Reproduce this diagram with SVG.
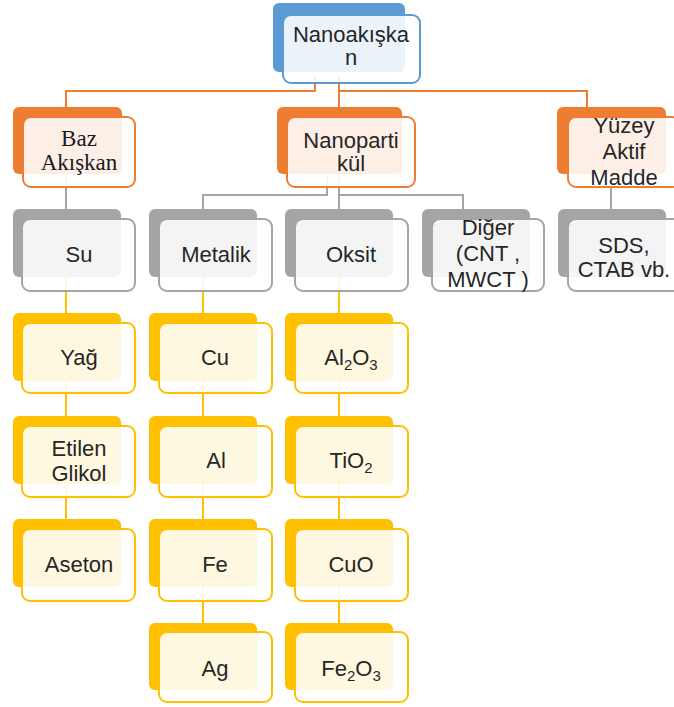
<svg xmlns="http://www.w3.org/2000/svg" width="674" height="707" viewBox="0 0 674 707">
<style>
.bg{fill:#ffffff}
.c{fill:none;stroke-width:2}
.co{stroke:#ed7d31}.cg{stroke:#a5a5a5}.cy{stroke:#ffc000}
.fr{fill:#ffffff;fill-opacity:0.88;stroke-width:2}
.b-blue{fill:#5b9bd5}.f-blue{stroke:#5b9bd5}
.b-or{fill:#ed7d31}.f-or{stroke:#ed7d31}
.b-gr{fill:#a5a5a5}.f-gr{stroke:#a5a5a5}
.b-ye{fill:#ffc000}.f-ye{stroke:#ffc000}
text{font-family:"Liberation Sans",Arial,sans-serif;font-size:22px;fill:#262626;text-anchor:middle}
text.serif{font-family:"Liberation Serif","Times New Roman",serif;font-size:23px;fill:#1a1a1a}
.sub{font-size:15px}
</style>
<rect class="bg" width="674" height="707"/>
<g id="connectors">
<path class="c co" d="M315,75 V91 H66 V107"/>
<path class="c co" d="M339,75 V107"/>
<path class="c co" d="M339,91 H587 V107"/>
<path class="c cg" d="M66,177 V209"/>
<path class="c cg" d="M327,177 V195 H203 V209"/>
<path class="c cg" d="M339,177 V209"/>
<path class="c cg" d="M339,195 H463 V209"/>
<path class="c cg" d="M611,177 V209"/>
<path class="c cy" d="M66,277 V313"/>
<path class="c cy" d="M66,381 V416"/>
<path class="c cy" d="M66,484 V519"/>
<path class="c cy" d="M203,277 V313"/>
<path class="c cy" d="M203,381 V416"/>
<path class="c cy" d="M203,484 V519"/>
<path class="c cy" d="M203,587 V623"/>
<path class="c cy" d="M339,277 V313"/>
<path class="c cy" d="M339,381 V416"/>
<path class="c cy" d="M339,484 V519"/>
<path class="c cy" d="M339,587 V623"/>
</g>
<g id="nanoakiskan">
<rect class="b-blue" x="273" y="3" width="132" height="69" rx="6"/>
<rect class="fr f-blue" x="283" y="15" width="137" height="68" rx="8"/>
<text x="351" y="42">Nanoakışka</text>
<text x="351" y="65">n</text>
</g>
<g id="baz-akiskan">
<rect class="b-or" x="13" y="107" width="109" height="67" rx="6"/>
<rect class="fr f-or" x="23" y="117" width="112" height="70" rx="8"/>
<text class="serif" x="79" y="146">Baz</text>
<text class="serif" x="79" y="170">Akışkan</text>
</g>
<g id="nanopartikul">
<rect class="b-or" x="277" y="107" width="125" height="67" rx="6"/>
<rect class="fr f-or" x="287" y="117" width="128" height="70" rx="8"/>
<text x="351" y="148">Nanoparti</text>
<text x="351" y="171">kül</text>
</g>
<g id="yuzey-aktif-madde">
<rect class="b-or" x="557" y="107" width="109" height="67" rx="6"/>
<rect class="fr f-or" x="568" y="117" width="112" height="70" rx="8"/>
<text x="624" y="133">Yüzey</text>
<text x="624" y="159">Aktif</text>
<text x="624" y="185">Madde</text>
</g>
<g id="su">
<rect class="b-gr" x="13" y="209" width="108" height="68" rx="6"/>
<rect class="fr f-gr" x="22" y="219" width="113" height="72" rx="8"/>
<text x="79" y="262">Su</text>
</g>
<g id="metalik">
<rect class="b-gr" x="149" y="209" width="108" height="68" rx="6"/>
<rect class="fr f-gr" x="159" y="219" width="113" height="72" rx="8"/>
<text x="216" y="262">Metalik</text>
</g>
<g id="oksit">
<rect class="b-gr" x="285" y="209" width="108" height="68" rx="6"/>
<rect class="fr f-gr" x="295" y="219" width="113" height="72" rx="8"/>
<text x="351" y="262">Oksit</text>
</g>
<g id="diger">
<rect class="b-gr" x="422" y="209" width="108" height="68" rx="6"/>
<rect class="fr f-gr" x="432" y="219" width="112" height="72" rx="8"/>
<text x="488" y="235">Diğer</text>
<text x="488" y="261">(CNT ,</text>
<text x="488" y="287">MWCT )</text>
</g>
<g id="sds-ctab">
<rect class="b-gr" x="558" y="209" width="108" height="68" rx="6"/>
<rect class="fr f-gr" x="568" y="219" width="113" height="72" rx="8"/>
<text x="624" y="253">SDS,</text>
<text x="624" y="277">CTAB vb.</text>
</g>
<g id="yag">
<rect class="b-ye" x="13" y="313" width="108" height="68" rx="6"/>
<rect class="fr f-ye" x="22" y="323" width="113" height="70" rx="8"/>
<text x="79" y="365">Yağ</text>
</g>
<g id="cu">
<rect class="b-ye" x="149" y="313" width="108" height="68" rx="6"/>
<rect class="fr f-ye" x="159" y="323" width="113" height="70" rx="8"/>
<text x="215" y="365">Cu</text>
</g>
<g id="al2o3">
<rect class="b-ye" x="285" y="313" width="108" height="68" rx="6"/>
<rect class="fr f-ye" x="295" y="323" width="113" height="70" rx="8"/>
<text x="351" y="365">Al<tspan class="sub" dy="5">2</tspan><tspan dy="-5">O</tspan><tspan class="sub" dy="5">3</tspan></text>
</g>
<g id="etilen-glikol">
<rect class="b-ye" x="13" y="416" width="108" height="68" rx="6"/>
<rect class="fr f-ye" x="22" y="426" width="113" height="71" rx="8"/>
<text x="79" y="456">Etilen</text>
<text x="79" y="481">Glikol</text>
</g>
<g id="al">
<rect class="b-ye" x="149" y="416" width="108" height="68" rx="6"/>
<rect class="fr f-ye" x="159" y="426" width="113" height="71" rx="8"/>
<text x="216" y="468">Al</text>
</g>
<g id="tio2">
<rect class="b-ye" x="285" y="416" width="108" height="68" rx="6"/>
<rect class="fr f-ye" x="295" y="426" width="113" height="71" rx="8"/>
<text x="351" y="468">TiO<tspan class="sub" dy="5">2</tspan></text>
</g>
<g id="aseton">
<rect class="b-ye" x="13" y="519" width="108" height="68" rx="6"/>
<rect class="fr f-ye" x="22" y="529" width="113" height="72" rx="8"/>
<text x="79" y="572">Aseton</text>
</g>
<g id="fe">
<rect class="b-ye" x="149" y="519" width="108" height="68" rx="6"/>
<rect class="fr f-ye" x="159" y="529" width="113" height="72" rx="8"/>
<text x="215" y="572">Fe</text>
</g>
<g id="cuo">
<rect class="b-ye" x="285" y="519" width="108" height="68" rx="6"/>
<rect class="fr f-ye" x="295" y="529" width="113" height="72" rx="8"/>
<text x="351" y="572">CuO</text>
</g>
<g id="ag">
<rect class="b-ye" x="149" y="623" width="108" height="67" rx="6"/>
<rect class="fr f-ye" x="159" y="632" width="113" height="70" rx="8"/>
<text x="215" y="676">Ag</text>
</g>
<g id="fe2o3">
<rect class="b-ye" x="285" y="623" width="108" height="67" rx="6"/>
<rect class="fr f-ye" x="295" y="632" width="113" height="70" rx="8"/>
<text x="351" y="676">Fe<tspan class="sub" dy="5">2</tspan><tspan dy="-5">O</tspan><tspan class="sub" dy="5">3</tspan></text>
</g>
</svg>
